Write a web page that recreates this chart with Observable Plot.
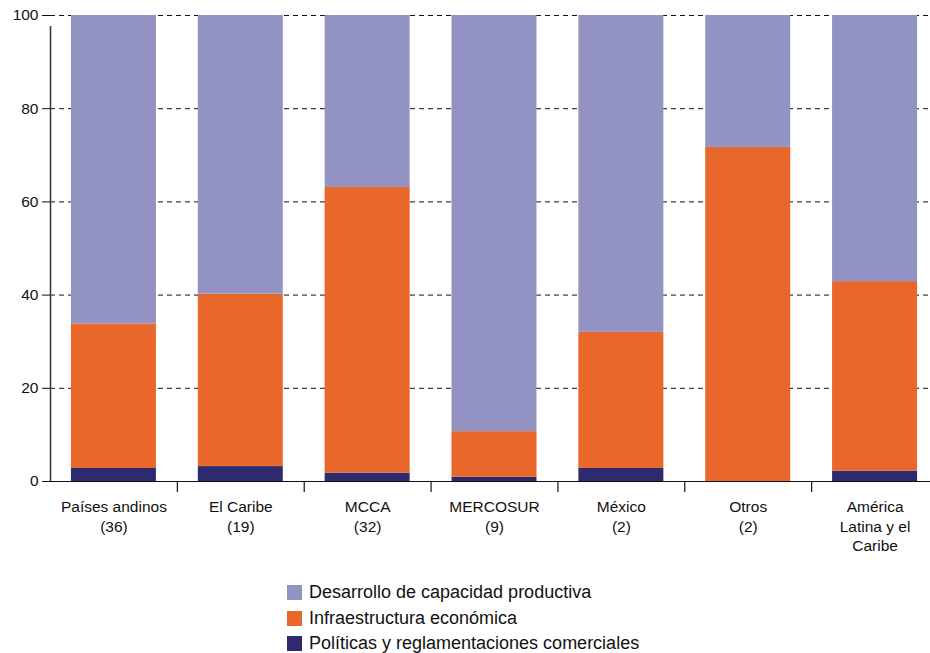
<!DOCTYPE html>
<html>
<head>
<meta charset="utf-8">
<script src="https://cdn.jsdelivr.net/npm/d3@7"></script>
<script src="https://cdn.jsdelivr.net/npm/@observablehq/plot@0.6"></script>
<style>
  body { margin: 0; background: white; font-family: "Liberation Sans", Arial, sans-serif; }
  #chart svg { overflow: visible; }
  .legend { position: relative; margin-left: 287px; margin-top: 20px; font-size: 18px; color: #111; }
  .legend .row { display: flex; align-items: center; height: 25.5px; line-height: 25.5px; }
  .legend .sw { width: 15px; height: 15px; margin-right: 7px; flex: none; }
</style>
</head>
<body>
<div id="chart"></div>
<div class="legend" id="legend"></div>
<script>
const categories = ["Países andinos\n(36)", "El Caribe\n(19)", "MCCA\n(32)", "MERCOSUR\n(9)", "México\n(2)", "Otros\n(2)", "América\nLatina y el\nCaribe"];
const seriesNames = ["Desarrollo de capacidad productiva", "Infraestructura económica", "Políticas y reglamentaciones comerciales"];
const seriesColors = ["#9293c2", "#e8672b", "#2d2a6e"];
const politicas = [2.8, 3.2, 1.8, 0.9, 2.8, 0, 2.2];
const infraestructura = [31.0, 37.0, 61.3, 9.8, 29.2, 71.7, 40.7];
const desarrollo = [66.2, 59.8, 36.9, 89.3, 68.0, 28.3, 57.1];
const yTicks = [0, 20, 40, 60, 80, 100];

const data = [];
categories.forEach((c, i) => {
  data.push({cat: c, series: seriesNames[2], value: politicas[i]});
  data.push({cat: c, series: seriesNames[1], value: infraestructura[i]});
  data.push({cat: c, series: seriesNames[0], value: desarrollo[i]});
});

const width = 930, marginLeft = 50, marginRight = -8;
const step = (width - marginRight - marginLeft) / categories.length;

const chart = Plot.plot({
  width,
  height: 560,
  marginLeft,
  marginRight,
  marginTop: 15,
  marginBottom: 79,
  style: {fontFamily: "Liberation Sans, Arial, sans-serif", fontSize: "15.5px", color: "#111", background: "white"},
  x: {domain: categories, paddingInner: 0.33, paddingOuter: 0.165, round: false, label: null},
  y: {domain: [0, 100], label: null},
  color: {domain: seriesNames, range: seriesColors},
  marks: [
    Plot.gridY(yTicks, {stroke: "#111", strokeOpacity: 1, strokeDasharray: "5,4", strokeWidth: 1}),
    Plot.barY(data, {x: "cat", y: "value", fill: "series", order: [seriesNames[2], seriesNames[1], seriesNames[0]]}),
    Plot.ruleY([0], {stroke: "#111", strokeWidth: 1.2}),
    Plot.ruleX([categories[0]], {x: d => d, y1: 0, y2: 100, dx: -step / 2, insetBottom: -11, stroke: "#333", strokeWidth: 1.5}),
    Plot.ruleX(categories.slice(1), {x: d => d, y1: 0, y2: 0, dx: -step / 2, insetBottom: -11, stroke: "#111", strokeWidth: 1.2}),
    Plot.axisY({ticks: yTicks, tickSize: 8, tickPadding: 4, label: null, fontSize: 15.5, stroke: "#111"}),
    Plot.axisX({tickSize: 0, tickPadding: 17, label: null, fontSize: 15.5, lineHeight: 1.26, lineAnchor: "top"})
  ]
});
document.getElementById("chart").appendChild(chart);

const legend = document.getElementById("legend");
seriesNames.forEach((s, i) => {
  const row = document.createElement("div");
  row.className = "row";
  const sw = document.createElement("span");
  sw.className = "sw";
  sw.style.background = seriesColors[i];
  const t = document.createElement("span");
  t.textContent = s;
  row.appendChild(sw);
  row.appendChild(t);
  legend.appendChild(row);
});
</script>
</body>
</html>
